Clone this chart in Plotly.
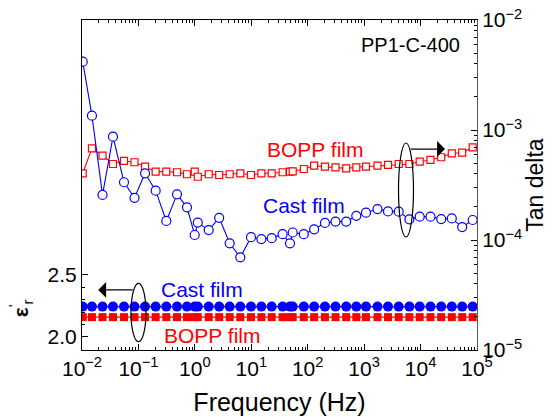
import plotly.graph_objects as go

# Frequency (Hz), shared by all four series
freq = [0.0103, 0.0150, 0.0231, 0.0354, 0.0555, 0.0852, 0.131, 0.202, 0.312, 0.483,
        0.726, 0.994, 1.127, 1.76, 2.70, 4.14, 6.39, 9.88, 15.1, 23.0,
        35.9, 48.5, 54.2, 85.2, 130, 202, 311, 481, 726, 1078,
        1724, 2647, 4096, 6340, 9647, 14990, 23200, 35750, 54640, 83870]

# Tan delta (right axis)
tan_cast = [4.18e-3, 1.35e-3, 2.57e-4, 8.69e-4, 3.35e-4, 2.42e-4, 4.04e-4, 2.81e-4, 1.49e-4, 2.60e-4,
            1.98e-4, 1.11e-4, 1.44e-4, 1.23e-4, 1.59e-4, 9.33e-5, 6.96e-5, 1.06e-4, 1.02e-4, 1.04e-4,
            1.13e-4, 9.33e-5, 1.17e-4, 1.13e-4, 1.25e-4, 1.43e-4, 1.47e-4, 1.47e-4, 1.66e-4, 1.77e-4,
            1.91e-4, 1.82e-4, 1.81e-4, 1.54e-4, 1.63e-4, 1.63e-4, 1.55e-4, 1.57e-4, 1.31e-4, 1.52e-4]
tan_bopp = [4.04e-4, 6.82e-4, 5.84e-4, 4.91e-4, 5.23e-4, 5.09e-4, 4.64e-4, 4.18e-4, 4.18e-4, 4.13e-4,
            3.96e-4, 4.18e-4, 3.76e-4, 3.96e-4, 3.90e-4, 3.96e-4, 4.04e-4, 3.90e-4, 4.04e-4, 4.04e-4,
            4.13e-4, 4.18e-4, 4.20e-4, 4.42e-4, 4.74e-4, 4.64e-4, 4.58e-4, 4.48e-4, 4.58e-4, 4.64e-4,
            4.74e-4, 4.81e-4, 4.91e-4, 4.91e-4, 5.15e-4, 5.34e-4, 5.65e-4, 6.14e-4, 6.22e-4, 6.96e-4]

# Relative permittivity (left axis)
eps_cast = [2.245] * 40
eps_bopp = [2.16] * 40

xtick_vals = [1e-2, 1e-1, 1e0, 1e1, 1e2, 1e3, 1e4, 1e5]
xtick_text = ["10<sup>\u22122</sup>", "10<sup>\u22121</sup>", "10<sup>0</sup>", "10<sup>1</sup>",
              "10<sup>2</sup>", "10<sup>3</sup>", "10<sup>4</sup>", "10<sup>5</sup>"]
ytick_vals = [2.0, 2.5]
ytick_text = ["2.0", "2.5"]
y2tick_vals = [1e-5, 1e-4, 1e-3, 1e-2]
y2tick_text = ["10<sup>\u22125</sup>", "10<sup>\u22124</sup>", "10<sup>\u22123</sup>", "10<sup>\u22122</sup>"]

RED = "#FF0000"
BLUE = "#0000FF"
FONT = "Liberation Sans, Arial, sans-serif"

fig = go.Figure()
fig.add_trace(go.Scatter(x=freq, y=tan_bopp, yaxis="y2", mode="lines+markers",
                         line=dict(color=RED, width=1.1),
                         marker=dict(symbol="square", size=7, color="white",
                                     line=dict(color=RED, width=1.2))))
fig.add_trace(go.Scatter(x=freq, y=tan_cast, yaxis="y2", mode="lines+markers",
                         line=dict(color=BLUE, width=1.1),
                         marker=dict(symbol="circle", size=9, color="white",
                                     line=dict(color=BLUE, width=1.2))))
fig.add_trace(go.Scatter(x=freq, y=eps_cast, yaxis="y", mode="lines+markers",
                         line=dict(color=BLUE, width=1.2),
                         marker=dict(symbol="circle", size=10, color=BLUE)))
fig.add_trace(go.Scatter(x=freq, y=eps_bopp, yaxis="y", mode="lines+markers",
                         line=dict(color=RED, width=1.2),
                         marker=dict(symbol="square", size=8, color=RED)))

axis_common = dict(showline=True, linewidth=1, ticks="inside",
                   tickcolor="black", showgrid=False, zeroline=False, automargin=False,
                   ticklabeloverflow="allow",
                   tickfont=dict(family=FONT, size=21, color="black"))

# The page body adds an 8 px offset, so the figure is 8 px smaller on each side
fig.update_layout(
    width=547, height=409,
    margin=dict(l=74, r=78, t=12, b=67),
    paper_bgcolor="white", plot_bgcolor="white",
    showlegend=False,
    font=dict(family=FONT, color="black"),
    xaxis=dict(type="log", range=[-2, 5], tickmode="array", tickvals=xtick_vals,
               ticktext=xtick_text, ticklen=6, mirror="ticks", linecolor="black",
               minor=dict(ticks="inside", ticklen=3, dtick="D1", tickcolor="black"),
               title=dict(text="Frequency (Hz)", font=dict(family=FONT, size=25), standoff=14),
               **axis_common),
    yaxis=dict(range=[1.895, 4.556], tickmode="array", tickvals=ytick_vals,
               ticktext=ytick_text, ticklen=6, linecolor="black",
               minor=dict(ticks="inside", ticklen=3, tickmode="array",
                          tickvals=[1.9, 2.1, 2.2, 2.3, 2.4], tickcolor="black"),
               **axis_common),
    yaxis2=dict(type="log", range=[-5, -2], overlaying="y", side="right",
                tickmode="array", tickvals=y2tick_vals, ticktext=y2tick_text, ticklen=6,
                linecolor="#555555",
                minor=dict(ticks="inside", ticklen=3, dtick="D1", tickcolor="black"),
                title=dict(text="Tan delta", font=dict(family=FONT, size=23), standoff=4),
                **axis_common),
)

# Left axis label
fig.add_annotation(text="<b>\u03b5</b><sup>'</sup><sub>r</sub>", xref="paper", yref="y",
                   x=-0.155, y=2.23, xanchor="center", yanchor="middle",
                   showarrow=False, textangle=-90,
                   font=dict(family=FONT, size=21, color="black"))

texts = [
    ("PP1-C-400", 0.961, 0.924, "right", "black", 20),
    ("BOPP film", 0.589, 0.607, "center", RED, 21),
    ("Cast film", 0.562, 0.439, "center", BLUE, 21),
    ("Cast film", 0.305, 0.182, "center", BLUE, 21),
    ("BOPP film", 0.330, 0.044, "center", RED, 21),
]
for t, x, y, xa, c, s in texts:
    fig.add_annotation(text=t, xref="paper", yref="paper", x=x, y=y, xanchor=xa,
                       yanchor="middle", showarrow=False, font=dict(family=FONT, size=s, color=c))

# Ellipses
fig.add_shape(type="circle", xref="paper", yref="paper", x0=0.8013, x1=0.8392, y0=0.3424, y1=0.6273,
              line=dict(color="black", width=1.2))
fig.add_shape(type="circle", xref="paper", yref="paper", x0=0.124, x1=0.162, y0=0.025, y1=0.202,
              line=dict(color="black", width=1.2))

# Arrows
fig.add_annotation(text="", xref="paper", yref="paper", x=0.919, y=0.609, ax=-36, ay=0,
                   showarrow=True, arrowhead=1, arrowsize=2.2, arrowwidth=1.2, arrowcolor="black")
fig.add_annotation(text="", xref="paper", yref="paper", x=0.041, y=0.182, ax=36, ay=0,
                   showarrow=True, arrowhead=1, arrowsize=2.2, arrowwidth=1.2, arrowcolor="black")

fig.write_html("out.html")
